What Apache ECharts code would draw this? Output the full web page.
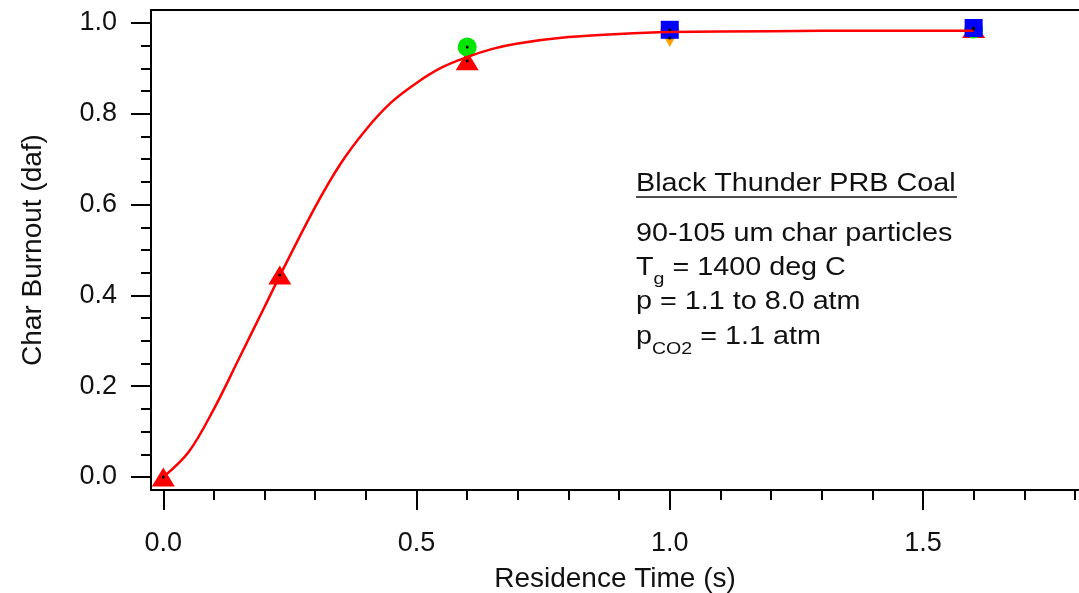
<!DOCTYPE html>
<html>
<head>
<meta charset="utf-8">
<script src="https://cdn.jsdelivr.net/npm/echarts@6/dist/echarts.min.js"></script>
<style>html,body{margin:0;padding:0;background:#fff}#c{width:1079px;height:593px}</style>
</head>
<body>
<div id="c"></div>
<script>
// ---- data ----
const fitX = [0, 0.05, 0.10, 0.15, 0.20, 0.23, 0.30, 0.35, 0.40, 0.45, 0.50, 0.55, 0.60, 0.65, 0.70, 0.80, 0.90, 1.00, 1.20, 1.40, 1.60];
const fitY = [0, 0.055, 0.15, 0.262, 0.375, 0.443, 0.595, 0.69, 0.765, 0.825, 0.868, 0.902, 0.925, 0.943, 0.955, 0.969, 0.976, 0.980, 0.982, 0.983, 0.983];
const redX = [0, 0.23, 0.6, 1.6];
const redY = [0, 0.445, 0.917, 0.988];
const greenX = [0.6, 1.6];
const greenY = [0.947, 0.987];
const orangeX = [1.0];
const orangeY = [0.967];
const blueX = [1.0, 1.6];
const blueY = [0.985, 0.989];
const xTicks = [0, 0.5, 1.0, 1.5];
const xMinorTicks = [0.1, 0.2, 0.3, 0.4, 0.6, 0.7, 0.8, 0.9, 1.1, 1.2, 1.3, 1.4, 1.6, 1.7, 1.8];
const yTicks = [0, 0.2, 0.4, 0.6, 0.8, 1.0];
const yMinorTicks = [0.05, 0.1, 0.15, 0.25, 0.3, 0.35, 0.45, 0.5, 0.55, 0.65, 0.7, 0.75, 0.85, 0.9, 0.95];
const xTitle = 'Residence Time (s)';
const yTitle = 'Char Burnout (daf)';

const zip = (xs, ys) => xs.map((x, i) => [x, ys[i]]);
const allPts = [].concat(zip(redX, redY), zip(greenX, greenY), zip(orangeX, orangeY), zip(blueX, blueY));

const FONT = 'Liberation Sans, Arial, sans-serif';
const TXT = '#111';
const X_MIN = -0.0243, X_MAX = 1.808, Y_MIN = -0.0286, Y_MAX = 1.0286;
const fmt = v => v.toFixed(1);
const SX = 1.15;

const chart = echarts.init(document.getElementById('c'), null, {renderer: 'canvas'});
chart.setOption({
  animation: false,
  backgroundColor: '#fff',
  grid: {left: 151, right: 0, top: 10, bottom: 103, containLabel: false, outerBoundsMode: 'none'},
  xAxis: [
    {
      type: 'value', min: X_MIN, max: X_MAX, position: 'bottom',
      name: xTitle, nameLocation: 'middle', nameGap: 75,
      nameTextStyle: {fontFamily: FONT, fontSize: 28, color: TXT},
      axisLine: {show: true, onZero: false, lineStyle: {color: '#000', width: 2}},
      axisTick: {show: true, inside: false, length: 20, lineStyle: {color: '#000', width: 2}, customValues: xTicks},
      axisLabel: {show: true, margin: 40, fontFamily: FONT, fontSize: 27, color: TXT, formatter: fmt, customValues: xTicks},
      splitLine: {show: false}
    },
    {
      type: 'value', min: X_MIN, max: X_MAX, position: 'bottom',
      axisLine: {show: false, onZero: false},
      axisTick: {show: true, inside: false, length: 10, lineStyle: {color: '#000', width: 2}, customValues: xMinorTicks},
      axisLabel: {show: false},
      splitLine: {show: false}
    },
    {
      type: 'value', min: X_MIN, max: X_MAX, position: 'top',
      axisLine: {show: true, onZero: false, lineStyle: {color: '#000', width: 2}},
      axisTick: {show: false}, axisLabel: {show: false}, splitLine: {show: false}
    }
  ],
  yAxis: [
    {
      type: 'value', min: Y_MIN, max: Y_MAX, position: 'left',
      name: yTitle, nameLocation: 'middle', nameGap: 104,
      nameTextStyle: {fontFamily: FONT, fontSize: 28, color: TXT},
      axisLine: {show: true, onZero: false, lineStyle: {color: '#000', width: 2}},
      axisTick: {show: true, inside: false, length: 20, lineStyle: {color: '#000', width: 2}, customValues: yTicks},
      axisLabel: {show: true, margin: 34, fontFamily: FONT, fontSize: 27, color: TXT, formatter: fmt, customValues: yTicks},
      splitLine: {show: false}
    },
    {
      type: 'value', min: Y_MIN, max: Y_MAX, position: 'left',
      axisLine: {show: false, onZero: false},
      axisTick: {show: true, inside: false, length: 10, lineStyle: {color: '#000', width: 2}, customValues: yMinorTicks},
      axisLabel: {show: false},
      splitLine: {show: false}
    }
  ],
  series: [
    {type: 'scatter', data: zip(redX, redY), symbol: 'triangle', symbolSize: [23, 19], itemStyle: {color: '#ff0000', opacity: 1}, z: 2},
    {type: 'scatter', data: zip(greenX, greenY), symbol: 'circle', symbolSize: 19, itemStyle: {color: '#00e600', opacity: 1}, z: 3},
    {type: 'scatter', data: zip(orangeX, orangeY), symbol: 'triangle', symbolRotate: 180, symbolSize: [20, 18], itemStyle: {color: '#ffa000', opacity: 1}, z: 3},
    {type: 'scatter', data: zip(blueX, blueY), symbol: 'rect', symbolSize: 18, itemStyle: {color: '#0000ff', opacity: 1}, z: 4},
    {type: 'line', data: zip(fitX, fitY), smooth: 0.35, showSymbol: false, symbol: 'none', lineStyle: {color: '#ff0000', width: 2.5}, z: 5},
    {type: 'scatter', data: allPts, symbol: 'circle', symbolSize: 3, itemStyle: {color: '#000', opacity: 1}, z: 6}
  ],
  graphic: [
    {type: 'text', x: 636, y: 184, scaleX: SX, style: {text: 'Black Thunder PRB Coal', font: '25px ' + FONT, fill: TXT, verticalAlign: 'middle'}},
    {type: 'line', shape: {x1: 636, y1: 197, x2: 957, y2: 197}, style: {stroke: TXT, lineWidth: 1.5}},
    {type: 'text', x: 636, y: 234, scaleX: SX, style: {text: '90-105 um char particles', font: '25px ' + FONT, fill: TXT, verticalAlign: 'middle'}},
    {type: 'text', x: 636, y: 270, scaleX: SX, style: {
      text: '{n|T}{s|g}{n| = 1400 deg C}', verticalAlign: 'middle', fill: TXT,
      rich: {n: {fontFamily: FONT, fontSize: 25, color: TXT, lineHeight: 28, verticalAlign: 'top'},
             s: {fontFamily: FONT, fontSize: 17, color: TXT, lineHeight: 18, padding: [15, 0, 0, 0], verticalAlign: 'top'}}}},
    {type: 'text', x: 636, y: 302, scaleX: SX, style: {text: 'p = 1.1 to 8.0 atm', font: '25px ' + FONT, fill: TXT, verticalAlign: 'middle'}},
    {type: 'text', x: 636, y: 339, scaleX: SX, style: {
      text: '{n|p}{s|CO2}{n| = 1.1 atm}', verticalAlign: 'middle', fill: TXT,
      rich: {n: {fontFamily: FONT, fontSize: 25, color: TXT, lineHeight: 28, verticalAlign: 'top'},
             s: {fontFamily: FONT, fontSize: 17, color: TXT, lineHeight: 18, padding: [16, 0, 0, 0], verticalAlign: 'top'}}}}
  ]
});
</script>
</body>
</html>
